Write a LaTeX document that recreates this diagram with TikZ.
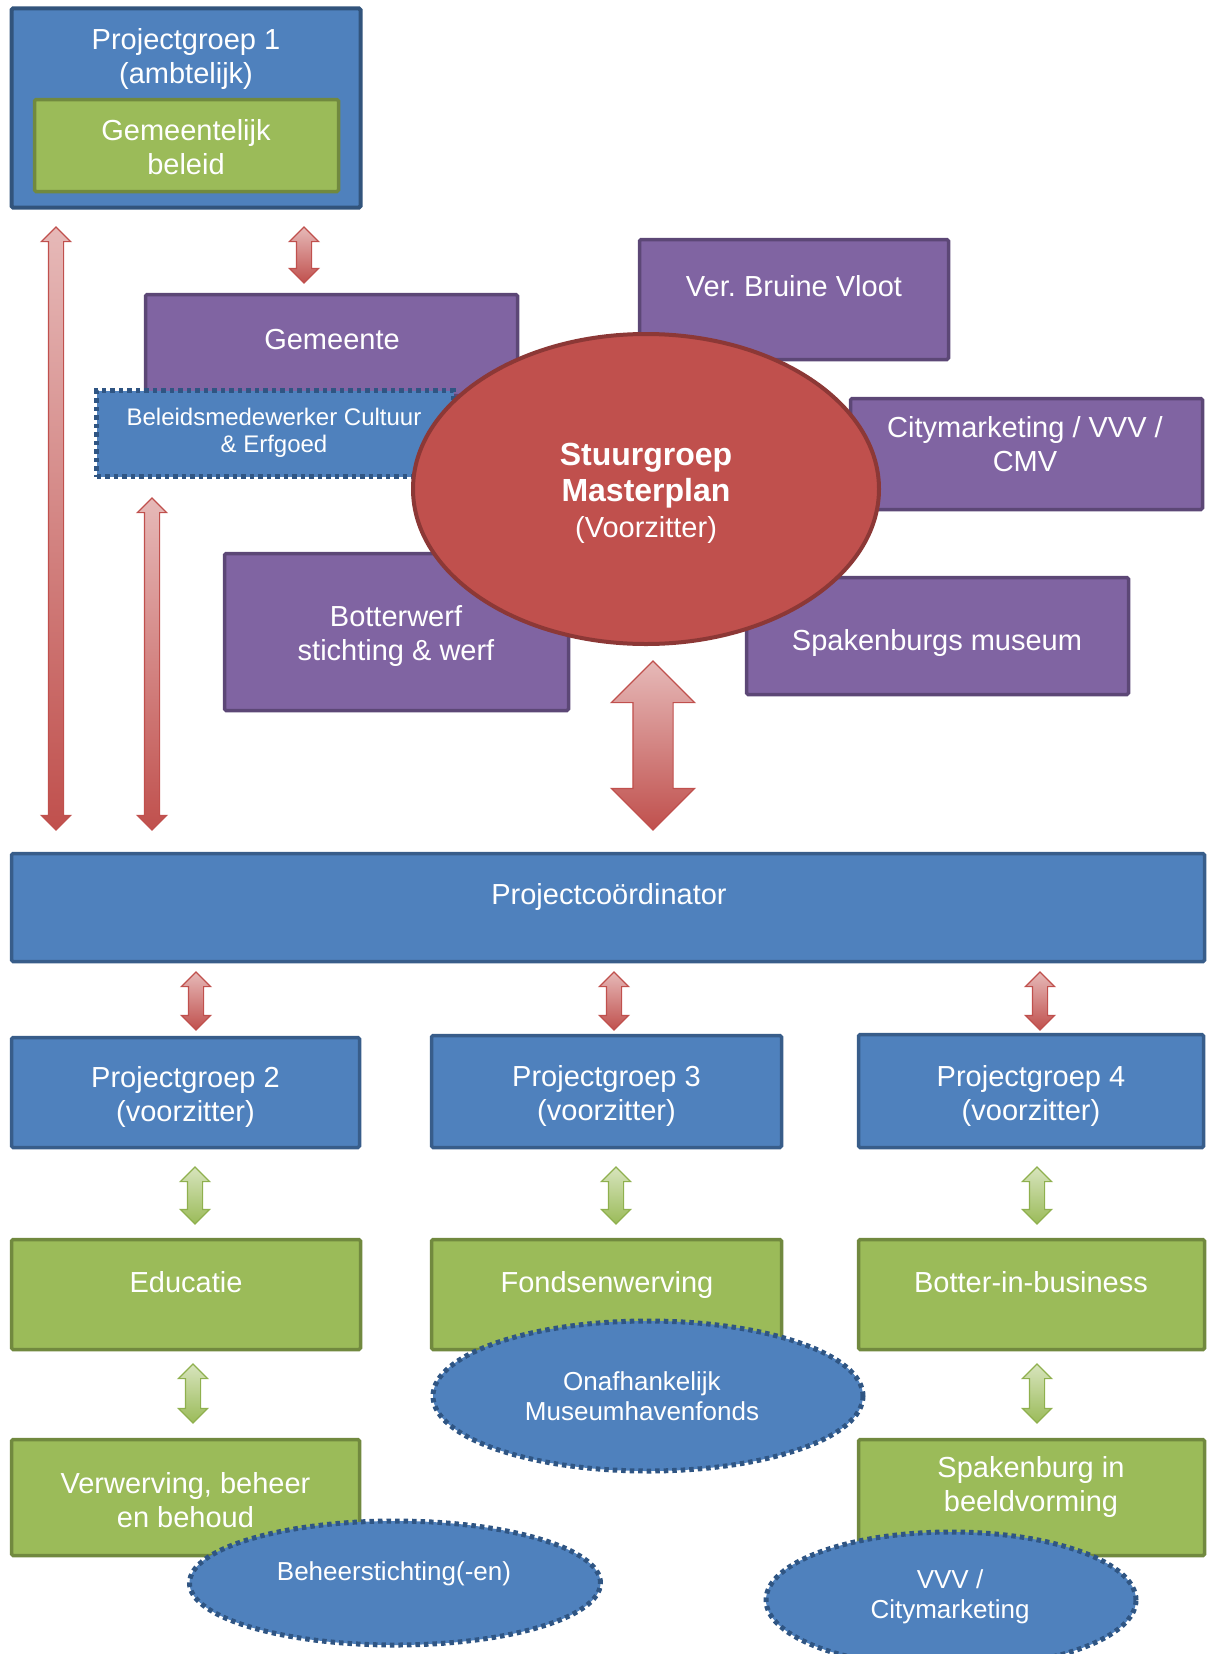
\documentclass[tikz,border=0pt]{standalone}
\usepackage{fontspec}
\setmainfont{Liberation Sans}
\usetikzlibrary{shapes.geometric,shapes.arrows}

\definecolor{vulblauw}{HTML}{4F81BD}
\definecolor{randblauw}{HTML}{385D8A}
\definecolor{stipblauw}{HTML}{2F5583}
\definecolor{vulpaars}{HTML}{8064A2}
\definecolor{randpaars}{HTML}{5C4776}
\definecolor{vulrood}{HTML}{C0504D}
\definecolor{randrood}{HTML}{8C3836}
\definecolor{vulgroen}{HTML}{9BBB59}
\definecolor{randgroen}{HTML}{71893F}
\definecolor{pijlroze}{HTML}{E6B9B8}
\definecolor{pijllicht}{HTML}{D7E4BD}
\definecolor{pijlgroen}{HTML}{8FB04E}

\tikzset{
  blok/.style={rectangle, line width=3.5pt, inner sep=0pt, rounded corners=1.5pt,
    text=white, align=center, font=\fontsize{29}{34}\selectfont},
  blauw/.style={blok, fill=vulblauw, draw=randblauw},
  paars/.style={blok, fill=vulpaars, draw=randpaars},
  groen/.style={blok, fill=vulgroen, draw=randgroen},
  stippel/.style={fill=vulblauw, draw=stipblauw, line width=5pt,
    dash pattern=on 4.5pt off 4pt, text=white, align=center, inner sep=0pt},
  tekst/.style={text=white, align=center, inner sep=0pt, font=\fontsize{29}{34}\selectfont},
  pijl/.style={double arrow, shape border rotate=90, line width=1.2pt,
    double arrow tip angle=90, minimum width=0pt},
  dunrood/.style={pijl, inner sep=7pt, double arrow head extend=7pt,
    draw=vulrood, top color=pijlroze, bottom color=vulrood},
  dungroen/.style={pijl, inner sep=7pt, double arrow head extend=7pt,
    draw=pijlgroen, top color=pijllicht, bottom color=vulgroen},
  dikrood/.style={pijl, inner sep=19.5pt, double arrow head extend=21.5pt,
    draw=vulrood, top color=pijlroze, bottom color=vulrood}
}

\begin{document}
\begin{tikzpicture}[x=1pt, y=-1pt]
  \useasboundingbox (0,0) rectangle (1207,1654);

  \node[blauw, draw=randblauw!90!black, line width=4pt, minimum width=349pt, minimum height=199pt] (pgeen) at (186,108) {};
  \node[tekst] (pgeentxt) at (186,59) {Projectgroep 1\\(ambtelijk)};
  \node[groen, minimum width=304pt, minimum height=92pt] (beleid) at (186.5,145.5) {};
  \node[tekst] (beleidtxt) at (186,147.5) {Gemeentelijk\\beleid};

  \node[dunrood, minimum height=603pt] (pijla) at (56,528.5) {};
  \node[dunrood, minimum height=56pt] (pijlb) at (304,255) {};
  \node[dunrood, minimum height=332pt] (pijlc) at (152,664) {};

  \node[paars, minimum width=372pt, minimum height=101pt] (gemeente) at (331.5,345) {};
  \node[tekst] (gemeentetxt) at (332,340) {Gemeente};
  \node[stippel, minimum width=357pt, minimum height=86pt] (medewerker) at (275,433.5) {};
  \node[tekst, font=\fontsize{24}{27.5}\selectfont] (medewerkertxt) at (274,433) {Beleidsmedewerker Cultuur\\\& Erfgoed};

  \node[paars, minimum width=309pt, minimum height=120pt] (vloot) at (794,299.5) {};
  \node[tekst] (vloottxt) at (794,286) {Ver.\ Bruine Vloot};
  \node[paars, minimum width=352pt, minimum height=111pt] (city) at (1026.5,454) {};
  \node[tekst] (citytxt) at (1025,444) {Citymarketing / VVV /\\CMV};
  \node[paars, minimum width=344pt, minimum height=157pt] (werf) at (396.5,632) {};
  \node[tekst] (werftxt) at (396,636) {Botterwerf\\stichting \& werf};
  \node[paars, minimum width=382pt, minimum height=117pt] (museum) at (937.5,636) {};
  \node[tekst] (museumtxt) at (937,643) {Spakenburgs museum};

  \node[ellipse, fill=vulrood, draw=randrood, line width=4pt, inner sep=0pt,
    minimum width=466pt, minimum height=310pt] (stuurgroep) at (646,489) {};
  \node[tekst, font=\fontsize{32}{36}\selectfont] (stuurgroeptxt) at (646,493)
    {\textbf{Stuurgroep}\\\textbf{Masterplan}\\{\fontsize{29}{36}\selectfont(Voorzitter)}};

  \node[dikrood, minimum height=169pt] (pijld) at (653,745.5) {};

  \node[blauw, minimum width=1193pt, minimum height=108pt] (coord) at (608,907.5) {};
  \node[tekst] (coordtxt) at (609,897) {Projectcoördinator};

  \node[dunrood, minimum height=58pt] (pijle) at (196,1001) {};
  \node[dunrood, minimum height=58pt] (pijlf) at (614,1001) {};
  \node[dunrood, minimum height=58pt] (pijlg) at (1040,1001) {};

  \node[blauw, minimum width=348pt, minimum height=110pt] (pgtwee) at (185.5,1092.5) {};
  \node[tekst] (pgtweetxt) at (185.5,1097) {Projectgroep 2\\(voorzitter)};
  \node[blauw, minimum width=350pt, minimum height=112pt] (pgdrie) at (606.5,1091.5) {};
  \node[tekst] (pgdrietxt) at (606.5,1096) {Projectgroep 3\\(voorzitter)};
  \node[blauw, minimum width=345pt, minimum height=113pt] (pgvier) at (1031,1091) {};
  \node[tekst] (pgviertxt) at (1031,1096) {Projectgroep 4\\(voorzitter)};

  \node[dungroen, minimum height=57pt] (pijlh) at (195,1195.5) {};
  \node[dungroen, minimum height=57pt] (pijli) at (616,1195.5) {};
  \node[dungroen, minimum height=57pt] (pijlj) at (1037,1195.5) {};

  \node[groen, minimum width=349pt, minimum height=110pt] (educatie) at (186,1294.5) {};
  \node[tekst] (educatietxt) at (186,1282) {Educatie};
  \node[groen, minimum width=350pt, minimum height=110pt] (fondsen) at (606.5,1294.5) {};
  \node[tekst] (fondsentxt) at (607,1285) {Fondsenwerving};
  \node[groen, minimum width=346pt, minimum height=110pt] (botter) at (1031.5,1294.5) {};
  \node[tekst] (bottertxt) at (1031,1282) {Botter-in-business};

  \node[dungroen, minimum height=59pt] (pijlk) at (193,1393.5) {};
  \node[dungroen, minimum height=59pt] (pijll) at (1037,1393.5) {};

  \node[groen, minimum width=348pt, minimum height=116pt] (verwerving) at (185.5,1497.5) {};
  \node[tekst] (verwervingtxt) at (185.5,1500) {Verwerving, beheer\\en behoud};
  \node[groen, minimum width=346pt, minimum height=116pt] (beeld) at (1031.5,1497.5) {};
  \node[tekst] (beeldtxt) at (1031,1487) {Spakenburg in\\beeldvorming};

  \node[stippel, ellipse, minimum width=430pt, minimum height=150pt] (havenfonds) at (648,1396) {};
  \node[tekst, font=\fontsize{26}{30}\selectfont] (havenfondstxt) at (642,1396) {Onafhankelijk\\Museumhavenfonds};
  \node[stippel, ellipse, minimum width=411pt, minimum height=124pt] (beheer) at (395,1583) {};
  \node[tekst, font=\fontsize{26}{30}\selectfont] (beheertxt) at (394,1574) {Beheerstichting(-en)};
  \node[stippel, ellipse, minimum width=370pt, minimum height=136pt] (vvv) at (951,1600) {};
  \node[tekst, font=\fontsize{26}{30}\selectfont] (vvvtxt) at (950,1597) {VVV /\\Citymarketing};
\end{tikzpicture}
\end{document}
